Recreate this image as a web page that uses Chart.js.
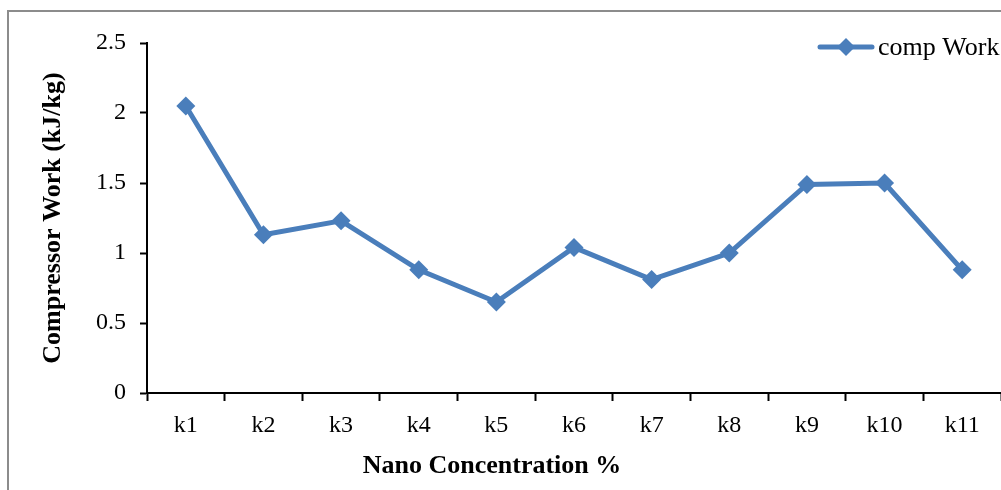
<!DOCTYPE html>
<html lang="en">
<head>
    <meta charset="utf-8" />
    <title>Compressor Work</title>
    <script src="https://cdn.jsdelivr.net/npm/chart.js"></script>
    <style>
        html, body {
            margin: 0;
            padding: 0;
            overflow: hidden;
            background: #fff;
        }
        /* grey chart frame, cropped at right and bottom like the original */
        .frame {
            position: absolute;
            left: 7px;
            top: 10px;
            width: 1100px;
            height: 600px;
            border: 2px solid #8c8c8c;
        }
        .chart-box {
            position: absolute;
            left: 0;
            top: 0;
            width: 1001px;
            height: 490px;
        }
    </style>
</head>
<body>
    <div class="frame"></div>
    <div class="chart-box">
        <canvas id="workChart" width="1001" height="490"></canvas>
    </div>

<script>
    // data
    var labels = ["k1", "k2", "k3", "k4", "k5", "k6", "k7", "k8", "k9", "k10", "k11"];
    var compWork = [2.05, 1.13, 1.23, 0.88, 0.65, 1.04, 0.81, 1.0, 1.49, 1.5, 0.88];
    var yTicks = [0, 0.5, 1, 1.5, 2, 2.5];

    var blue = '#4a7ebb';
    var serif = "'Liberation Serif', 'DejaVu Serif', serif";

    // legend (line + diamond) and x axis title drawn by hand
    var extras = {
        id: 'extras',
        afterDraw: function (chart) {
            var ctx = chart.ctx;
            ctx.save();
            ctx.strokeStyle = blue;
            ctx.lineWidth = 5;
            ctx.lineCap = 'round';
            ctx.beginPath();
            ctx.moveTo(820, 47);
            ctx.lineTo(872, 47);
            ctx.stroke();
            ctx.fillStyle = blue;
            ctx.beginPath();
            ctx.moveTo(846, 38);
            ctx.lineTo(855, 47);
            ctx.lineTo(846, 56);
            ctx.lineTo(837, 47);
            ctx.closePath();
            ctx.fill();

            ctx.fillStyle = '#000';
            ctx.font = '26px ' + serif;
            ctx.textAlign = 'left';
            ctx.textBaseline = 'middle';
            ctx.fillText('comp Work', 878, 48);

            ctx.font = 'bold 26px ' + serif;
            ctx.textAlign = 'center';
            ctx.fillText('Nano Concentration %', 492, 466);
            ctx.restore();
        }
    };

    var ctx = document.getElementById('workChart').getContext('2d');
    var workChart = new Chart(ctx, {
        type: 'line',
        data: {
            labels: labels,
            datasets: [{
                label: 'comp Work',
                data: compWork,
                borderColor: blue,
                backgroundColor: blue,
                borderWidth: 5,
                pointStyle: 'rectRot',
                pointRadius: 9.5,
                pointBorderWidth: 0,
                pointBackgroundColor: blue,
                tension: 0
            }]
        },
        options: {
            responsive: false,
            animation: false,
            layout: {
                autoPadding: false,
                padding: { left: 0, right: -1, top: 43, bottom: 0 }
            },
            plugins: {
                legend: { display: false },
                tooltip: { enabled: false }
            },
            scales: {
                x: {
                    offset: true,
                    grid: {
                        offset: true,
                        drawOnChartArea: false,
                        drawTicks: true,
                        tickLength: 8,
                        tickWidth: 2,
                        color: '#000'
                    },
                    border: { color: '#000', width: 2 },
                    ticks: {
                        color: '#000',
                        padding: 10,
                        maxRotation: 0,
                        font: { family: serif, size: 24 }
                    },
                    afterFit: function (scale) {
                        scale.height = 97;
                        scale.paddingLeft = 0;
                        scale.paddingRight = 0;
                    }
                },
                y: {
                    min: 0,
                    max: 2.5,
                    afterBuildTicks: function (scale) {
                        scale.ticks = yTicks.map(function (v) { return { value: v }; });
                    },
                    grid: {
                        drawOnChartArea: false,
                        drawTicks: true,
                        tickLength: 7,
                        tickWidth: 2,
                        color: '#000'
                    },
                    border: { color: '#000', width: 2 },
                    ticks: {
                        color: '#000',
                        padding: 14,
                        font: { family: serif, size: 24 },
                        callback: function (value) {
                            return String(value);
                        }
                    },
                    title: {
                        display: true,
                        text: 'Compressor Work (kJ/kg)',
                        color: '#000',
                        padding: { top: 38, bottom: 0 },
                        font: { family: serif, size: 26, weight: 'bold' }
                    },
                    afterFit: function (scale) {
                        scale.width = 147;
                    }
                }
            }
        },
        plugins: [extras]
    });
</script>
</body>
</html>
